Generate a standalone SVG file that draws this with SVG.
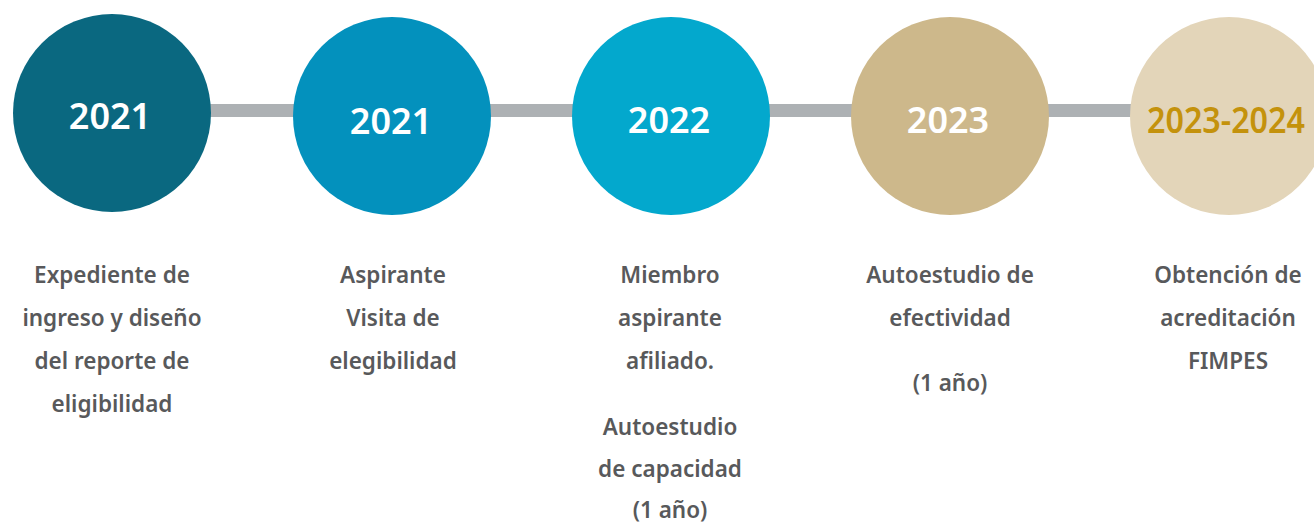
<svg xmlns="http://www.w3.org/2000/svg" width="1314" height="523" viewBox="0 0 1314 523">
<style>
.yr{font-family:"Noto Sans",Lato,sans-serif;font-weight:600;font-size:36px;text-anchor:middle;fill:#ffffff}
.lb{font-family:"Noto Sans",Lato,sans-serif;font-weight:600;font-size:22.5px;text-anchor:middle;fill:#58595b}
</style>
<rect width="1314" height="523" fill="#ffffff"/>
<g id="connectors">
<rect x="200" y="104" width="1050" height="13" fill="#adb1b4"/>
</g>
<g id="node1">
<circle cx="112" cy="113" r="99" fill="#0a6880"/>
<text class="yr" x="110" y="129">2021</text>
<text class="lb" x="112" y="283">Expediente de</text>
<text class="lb" x="112" y="326">ingreso y diseño</text>
<text class="lb" x="112" y="369">del reporte de</text>
<text class="lb" x="112" y="412">eligibilidad</text>
</g>
<g id="node2">
<circle cx="392" cy="116" r="99" fill="#0391bd"/>
<text class="yr" x="391" y="134">2021</text>
<text class="lb" x="393" y="283">Aspirante</text>
<text class="lb" x="393" y="326">Visita de</text>
<text class="lb" x="393" y="369">elegibilidad</text>
</g>
<g id="node3">
<circle cx="671" cy="116" r="99" fill="#03a8cd"/>
<text class="yr" x="669" y="133">2022</text>
<text class="lb" x="670" y="283">Miembro</text>
<text class="lb" x="670" y="326">aspirante</text>
<text class="lb" x="670" y="369">afiliado.</text>
<text class="lb" x="670" y="435">Autoestudio</text>
<text class="lb" x="670" y="477">de capacidad</text>
<text class="lb" x="670" y="518">(1 año)</text>
</g>
<g id="node4">
<circle cx="950" cy="116" r="99" fill="#cdb88b"/>
<text class="yr" x="948" y="133">2023</text>
<text class="lb" x="950" y="283">Autoestudio de</text>
<text class="lb" x="950" y="326">efectividad</text>
<text class="lb" x="950" y="391">(1 año)</text>
</g>
<g id="node5">
<circle cx="1229" cy="116" r="99" fill="#e3d5b9"/>
<text class="yr" x="1226" y="133" style="fill:#c4920c" textLength="158" lengthAdjust="spacingAndGlyphs">2023-2024</text>
<text class="lb" x="1228" y="283">Obtención de</text>
<text class="lb" x="1228" y="326">acreditación</text>
<text class="lb" x="1228" y="369">FIMPES</text>
</g>
</svg>
